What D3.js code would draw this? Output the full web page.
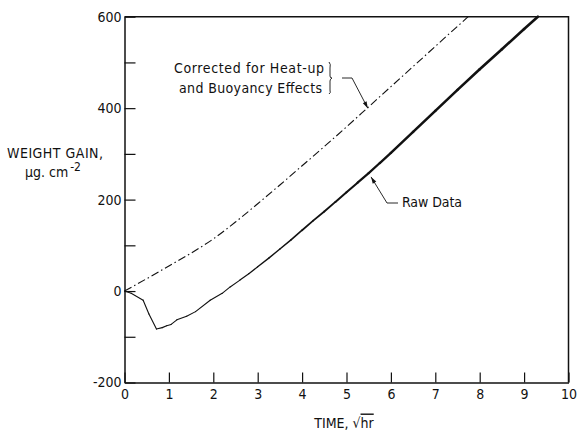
<!DOCTYPE html>
<html>
<head>
<meta charset="utf-8">
<script src="https://cdn.jsdelivr.net/npm/d3@7"></script>
<style>
  body { margin: 0; background: #fff; }
  svg { display: block; }
  text { font-family: "Liberation Sans Narrow", "DejaVu Sans Condensed", "DejaVu Sans", sans-serif; font-stretch: condensed; fill: #111; }
</style>
</head>
<body>
<div id="chart"></div>
<script>
// time (sqrt hr) and weight gain (ug/cm2)
var corrTime = [0, 0.5, 1, 1.5, 2, 2.5, 3, 3.5, 4, 4.5, 5, 5.5, 6, 6.5, 7, 7.5, 7.74];
var corrGain = [0, 27, 55, 83, 114, 151, 191, 232, 274, 316, 359, 403, 447, 491, 535, 579, 600];

var rawTime = [0, 0.15, 0.42, 0.55, 0.72, 0.85, 0.95, 1.05, 1.18, 1.4, 1.6, 1.93, 2.2, 2.38, 2.6, 2.8, 3, 3.25, 3.5, 3.75, 4, 4.25, 4.5, 4.75, 5, 5.25, 5.5, 5.75, 6, 6.5, 7, 7.5, 8, 8.5, 9, 9.31];
var rawGain = [0, -5, -20, -50, -83, -80, -76, -73, -63, -55, -45, -20, -5, 9, 24, 38, 53, 72, 92, 112, 133, 154, 174, 195, 216, 237, 258, 280, 302, 348, 394, 440, 485, 529, 573, 600];

var xTicks = [0, 1, 2, 3, 4, 5, 6, 7, 8, 9, 10];
var yTicks = [-200, -100, 0, 100, 200, 300, 400, 500, 600];

(function() {
    var width = 579, height = 431;
    var pLeft = 124.5, pRight = 568.5, pTop = 16.7, pBottom = 382.5;
    var fontStack = '"Liberation Sans Narrow", "DejaVu Sans Condensed", "DejaVu Sans", sans-serif';

    var svg = d3.select('#chart').append('svg')
        .attr('width', width)
        .attr('height', height);

    var x = d3.scaleLinear().domain([0, 10]).range([pLeft, pRight]);
    var y = d3.scaleLinear().domain([-200, 600]).range([pBottom, pTop]);

    // frame top + right
    svg.append('path')
        .attr('d', 'M' + pLeft + ',' + pTop + 'H' + pRight + 'V' + pBottom)
        .attr('fill', 'none')
        .attr('stroke', '#111')
        .attr('stroke-width', 1.5);

    // axes, ticks pointing inward
    var yAxis = d3.axisLeft(y)
        .tickValues(yTicks)
        .tickSizeInner(-11)
        .tickSizeOuter(0)
        .tickPadding(3)
        .tickFormat(function(d) { return d % 200 === 0 ? String(d) : ''; });

    var gy = svg.append('g')
        .attr('transform', 'translate(' + pLeft + ',0)')
        .call(yAxis);

    var xAxis = d3.axisBottom(x)
        .tickValues(xTicks)
        .tickSizeInner(-10)
        .tickSizeOuter(0)
        .tickPadding(6.5)
        .tickFormat(d3.format('d'));

    var gx = svg.append('g')
        .attr('transform', 'translate(0,' + pBottom + ')')
        .call(xAxis);

    [gx, gy].forEach(function(g) {
        g.select('.domain').attr('stroke', '#111').attr('stroke-width', 1.5);
        g.selectAll('.tick line').attr('stroke', '#111').attr('stroke-width', 1.2);
        g.selectAll('.tick text')
            .attr('fill', '#111')
            .style('font-size', '14px')
            .style('font-family', fontStack);
    });

    // curves
    var corrData = corrTime.map(function(t, i) { return [t, corrGain[i]]; });
    var rawData = rawTime.map(function(t, i) { return [t, rawGain[i]]; });

    var smooth = d3.line()
        .curve(d3.curveMonotoneX)
        .x(function(d) { return x(d[0]); })
        .y(function(d) { return y(d[1]); });

    svg.append('path')
        .datum(corrData)
        .attr('d', smooth)
        .attr('fill', 'none')
        .attr('stroke', '#111')
        .attr('stroke-width', 1.1)
        .attr('stroke-dasharray', '8,3,1.5,3');

    // raw trace: thin near the start, heavier further up
    var widthAt = d3.scaleLinear().domain([2.5, 6.5]).range([1.1, 2.6]).clamp(true);
    var segs = d3.pairs(rawData);
    svg.append('g')
        .selectAll('line')
        .data(segs)
        .enter()
        .append('line')
        .attr('x1', function(d) { return x(d[0][0]); })
        .attr('y1', function(d) { return y(d[0][1]); })
        .attr('x2', function(d) { return x(d[1][0]); })
        .attr('y2', function(d) { return y(d[1][1]); })
        .attr('stroke', '#111')
        .attr('stroke-linecap', 'round')
        .attr('stroke-width', function(d) { return widthAt((d[0][0] + d[1][0]) / 2); });

    // axis titles
    svg.append('text')
        .attr('x', 7).attr('y', 158)
        .style('font-size', '14px')
        .attr('textLength', 96)
        .text('WEIGHT GAIN,');

    var unit = svg.append('text')
        .attr('x', 25).attr('y', 177)
        .style('font-size', '14px');
    unit.append('tspan').text('\u03bcg. cm');
    unit.append('tspan').attr('dy', -6).attr('dx', 2).style('font-size', '12px').text('-2');

    var tt = svg.append('text')
        .attr('x', 344).attr('y', 427.5)
        .attr('text-anchor', 'middle')
        .style('font-size', '14px');
    tt.append('tspan').text('TIME, \u221a');
    tt.append('tspan').style('text-decoration', 'overline').text('hr');

    // annotations
    function arrow(points) {
        svg.append('path')
            .attr('d', d3.line()(points))
            .attr('fill', 'none')
            .attr('stroke', '#111')
            .attr('stroke-width', 0.9);
        var a = points[points.length - 2], b = points[points.length - 1];
        var ang = Math.atan2(b[1] - a[1], b[0] - a[0]);
        var L = 7, w = 0.3;
        svg.append('path')
            .attr('d', 'M' + b[0] + ',' + b[1] +
                'L' + (b[0] - L * Math.cos(ang - w)) + ',' + (b[1] - L * Math.sin(ang - w)) +
                'L' + (b[0] - L * Math.cos(ang + w)) + ',' + (b[1] - L * Math.sin(ang + w)) + 'Z')
            .attr('fill', '#111');
    }

    svg.append('text').attr('x', 174).attr('y', 73).style('font-size', '14px')
        .attr('textLength', 150).text('Corrected for Heat-up');
    svg.append('text').attr('x', 179).attr('y', 93).style('font-size', '14px')
        .attr('textLength', 143).text('and Buoyancy Effects');

    // brace
    svg.append('path')
        .attr('d', 'M329,62 Q331,64 330,68 L330,76 Q330,78 332,78 Q330,79 330,81 L330,90 Q331,93 329,94')
        .attr('fill', 'none')
        .attr('stroke', '#111')
        .attr('stroke-width', 0.9);

    arrow([[342, 78], [352, 78], [x(5.48), y(402) + 1]]);

    svg.append('text').attr('x', 402).attr('y', 207).style('font-size', '14px')
        .attr('textLength', 60).text('Raw Data');
    arrow([[398, 203], [387, 203], [x(5.53) + 1, y(254) + 2]]);
})();
</script>
</body>
</html>
